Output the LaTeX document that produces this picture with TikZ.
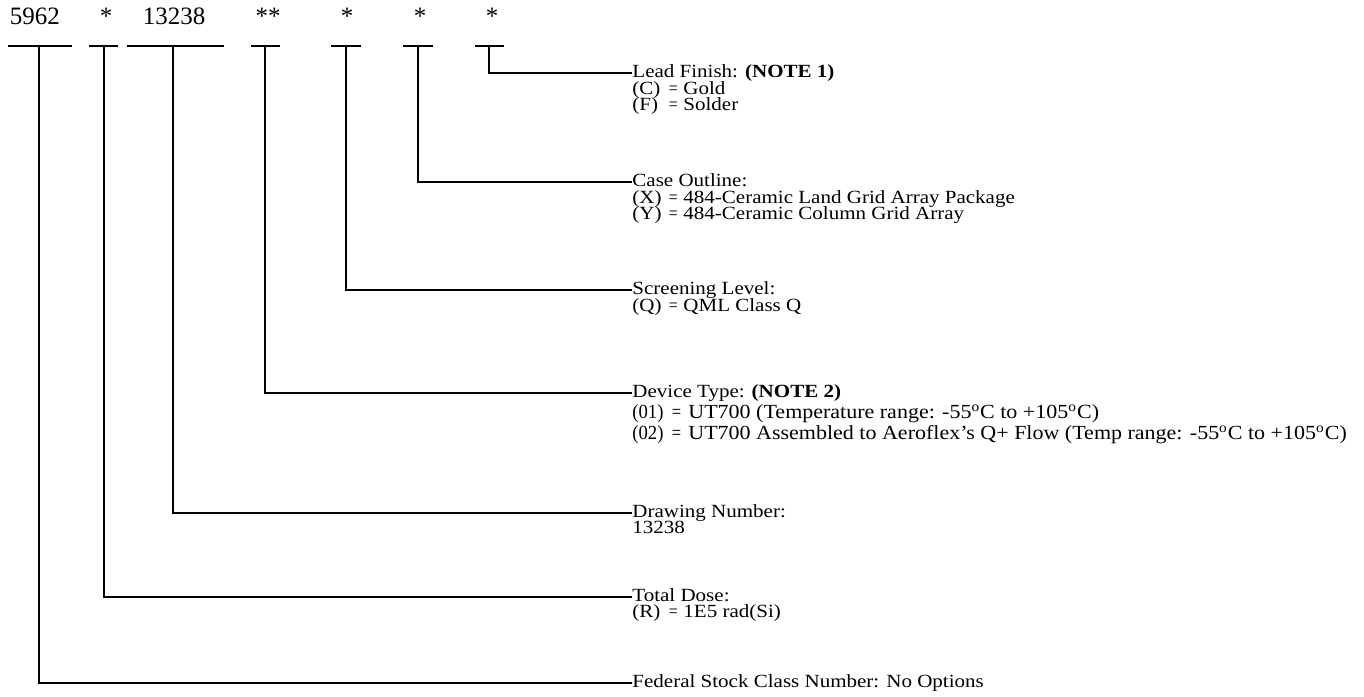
\documentclass[tikz,border=0pt]{standalone}
\usepackage{graphicx}
\usepackage{fontspec}
\setmainfont{Liberation Serif}
\newfontfamily\lblfont{Liberation Serif}[FakeStretch=1.13]
\newfontfamily\typefont{Liberation Serif}[FakeStretch=1.1]
\usetikzlibrary{positioning}

\tikzset{
  code/.style={anchor=base, inner sep=0pt, font=\fontsize{12.5}{14}\selectfont},
  lbl/.style={anchor=west, inner sep=0pt, text height=6.5pt, text depth=2pt,
              font=\lblfont\fontsize{9.3}{11}\selectfont},
  wide/.style={lbl, text height=7pt, text depth=2.2pt,
               font=\typefont\fontsize{10}{12}\selectfont},
  bar/.style={line width=1pt},
}
\newcommand{\eqs}{\scalebox{0.75}[1]{=}}
\newcommand{\opt}[2]{\makebox[15.5pt][l]{#1}\makebox[10pt][c]{\eqs}#2}
\newcommand{\optw}[2]{\makebox[16pt][l]{\scalebox{0.85}[1]{#1}}\makebox[12pt][c]{\eqs}#2}
\newcommand{\degc}{\textsuperscript{o}C}

\begin{document}
\begin{tikzpicture}[x=0.5pt,y=-0.5pt]
\useasboundingbox (0,0) rectangle (1364,696);

% -----------------------------
% Part number fields
% -----------------------------
\node[code] (pFsc)    at (35,25)  {5962};
\node[code] (pDose)   at (106,25) {*};
\node[code] (pDwg)    at (174,25) {13238};
\node[code] (pType)   at (268,25) {**};
\node[code] (pLevel)  at (347,25) {*};
\node[code] (pCase)   at (420,25) {*};
\node[code] (pFinish) at (492,25) {*};

% underline bars under each field
\draw[bar] (8,46) -- (72,46);
\draw[bar] (89,46) -- (118,46);
\draw[bar] (127,46) -- (224,46);
\draw[bar] (251,46) -- (280,46);
\draw[bar] (331,46) -- (361,46);
\draw[bar] (403,46) -- (433,46);
\draw[bar] (475,46) -- (504,46);

\coordinate (bFsc)    at (39,46);
\coordinate (bDose)   at (104,46);
\coordinate (bDwg)    at (173,46);
\coordinate (bType)   at (265,46);
\coordinate (bLevel)  at (346,46);
\coordinate (bCase)   at (418,46);
\coordinate (bFinish) at (489,46);

% -----------------------------
% Lead finish
% -----------------------------
\node[lbl] (lFinish) at (632,73) {Lead Finish: \textbf{(NOTE 1)}};
\node[lbl] (lFinishC) at (632,89.5) {\opt{(C)}{Gold}};
\node[lbl] (lFinishF) at (632,106) {\opt{(F)}{Solder}};

% Case outline
\node[lbl] (lCase) at (632,182) {Case Outline:};
\node[lbl] (lCaseX) at (632,198.5) {\opt{(X)}{484-Ceramic Land Grid Array Package}};
\node[lbl] (lCaseY) at (632,215) {\opt{(Y)}{484-Ceramic Column Grid Array}};

% Screening level
\node[lbl] (lLevel) at (632,290) {Screening Level:};
\node[lbl] (lLevelQ) at (632,306.5) {\opt{(Q)}{QML Class Q}};

% Device type
\node[lbl] (lType) at (632,393) {Device Type: \textbf{(NOTE 2)}};
\node[wide] (lType1) at (632,414)
  {\optw{(01)}{UT700 (Temperature range: -55\degc{} to +105\degc)}};
\node[wide] (lType2) at (632,435)
  {\optw{(02)}{UT700 Assembled to Aeroflex’s Q+ Flow (Temp range: -55\degc{} to +105\degc)}};

% Drawing number
\node[lbl] (lDwg) at (632,513) {Drawing Number:};
\node[lbl] (lDwgN) at (632,529) {13238};

% Total dose
\node[lbl] (lDose) at (632,597) {Total Dose:};
\node[lbl] (lDoseR) at (632,613) {\opt{(R)}{1E5 rad(Si)}};

% Federal stock class
\node[lbl] (lFsc) at (632,683) {Federal Stock Class Number: No Options};

% -----------------------------
% Leaders
% -----------------------------
\draw[bar] (bFinish) |- (lFinish.west);
\draw[bar] (bCase)   |- (lCase.west);
\draw[bar] (bLevel)  |- (lLevel.west);
\draw[bar] (bType)   |- (lType.west);
\draw[bar] (bDwg)    |- (lDwg.west);
\draw[bar] (bDose)   |- (lDose.west);
\draw[bar] (bFsc)    |- (lFsc.west);

\end{tikzpicture}
\end{document}
